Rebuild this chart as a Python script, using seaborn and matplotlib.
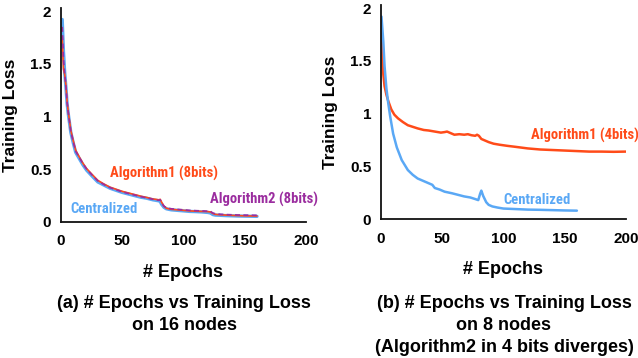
import pandas as pd
import seaborn as sns
import matplotlib.pyplot as plt
from matplotlib import font_manager

# (a) 16 nodes
epochs_a = [1, 2, 3, 4, 5, 6, 8, 10, 12, 15, 18, 21, 25, 30, 35, 40, 45, 50, 55, 60,
            65, 70, 75, 80, 81, 82, 84, 86, 90, 95, 100, 105, 110, 115, 120, 122, 124,
            126, 130, 135, 140, 145, 150, 155, 160]
central_a = [1.92, 1.62, 1.42, 1.28, 1.12, 1.02, 0.85, 0.75, 0.66, 0.60, 0.54, 0.49,
             0.44, 0.38, 0.35, 0.32, 0.30, 0.28, 0.265, 0.25, 0.235, 0.225, 0.21, 0.20,
             0.195, 0.17, 0.14, 0.125, 0.115, 0.11, 0.105, 0.10, 0.098, 0.095, 0.09,
             0.085, 0.07, 0.065, 0.063, 0.06, 0.058, 0.056, 0.055, 0.054, 0.053]
algo1_a = [1.75, 1.45, 1.40, 1.30, 1.14, 1.04, 0.87, 0.77, 0.68, 0.615, 0.555, 0.505,
           0.455, 0.395, 0.36, 0.33, 0.31, 0.29, 0.275, 0.26, 0.245, 0.232, 0.218, 0.21,
           0.215, 0.19, 0.15, 0.13, 0.12, 0.115, 0.11, 0.105, 0.102, 0.10, 0.098, 0.095,
           0.08, 0.072, 0.068, 0.065, 0.062, 0.06, 0.058, 0.057, 0.056]
algo2_a = [1.85, 1.55, 1.41, 1.29, 1.13, 1.03, 0.86, 0.76, 0.67, 0.61, 0.55, 0.50,
           0.45, 0.39, 0.355, 0.325, 0.305, 0.285, 0.27, 0.255, 0.24, 0.228, 0.215, 0.205,
           0.21, 0.185, 0.15, 0.135, 0.125, 0.12, 0.115, 0.11, 0.107, 0.105, 0.102, 0.10,
           0.085, 0.078, 0.073, 0.07, 0.068, 0.066, 0.065, 0.064, 0.063]

# (b) 8 nodes
epochs_b_c = [0.5, 2, 3, 4.5, 6, 7.5, 10, 13, 17, 22, 26, 30, 35, 39, 42, 44, 48, 52,
              58, 63, 68, 73, 77, 79.5, 81, 82, 83.5, 86, 88, 91, 95, 100, 110, 120,
              130, 140, 150, 160]
central_b = [1.92, 1.68, 1.45, 1.24, 1.10, 0.98, 0.81, 0.68, 0.56, 0.465, 0.42, 0.385,
             0.36, 0.34, 0.325, 0.295, 0.28, 0.26, 0.245, 0.23, 0.215, 0.205, 0.19, 0.18,
             0.24, 0.27, 0.22, 0.16, 0.135, 0.12, 0.11, 0.10, 0.095, 0.09, 0.088, 0.085,
             0.082, 0.08]
epochs_b_a = [0, 1, 2, 3, 4.5, 6, 8.5, 11, 14, 18, 22, 26, 30, 35, 39, 44, 49, 52, 54,
              57, 60, 64, 68, 71, 74, 77, 78.5, 80, 82, 85, 88, 92, 97, 103, 110, 120,
              130, 140, 150, 160, 170, 180, 190, 200]
algo1_b = [1.83, 1.6, 1.37, 1.26, 1.18, 1.12, 1.04, 0.99, 0.955, 0.92, 0.89, 0.875,
           0.86, 0.845, 0.84, 0.83, 0.82, 0.825, 0.83, 0.815, 0.80, 0.805, 0.80, 0.805,
           0.795, 0.79, 0.80, 0.79, 0.76, 0.745, 0.73, 0.715, 0.705, 0.695, 0.685, 0.67,
           0.66, 0.655, 0.65, 0.645, 0.64, 0.64, 0.638, 0.64]

ticks_x = [0, 50, 100, 150, 200]
ticks_y = [0, 0.5, 1, 1.5, 2]
tick_labels_y = ['0', '0.5', '1', '1.5', '2']

BLUE = '#5aa8f5'
RED = '#ff4b19'
PURPLE = '#9b2d9f'

sns.set_style('white')
plt.rcParams['font.family'] = ['Liberation Sans', 'DejaVu Sans']
plt.rcParams['font.weight'] = 'bold'
plt.rcParams['text.color'] = 'black'
plt.rcParams['axes.labelcolor'] = 'black'
plt.rcParams['xtick.color'] = 'black'
plt.rcParams['ytick.color'] = 'black'

# narrow face for the in-plot notes, if one is around
names = {f.name for f in font_manager.fontManager.ttflist}
note_font, note_size = 'Roboto', 9
for cand, size in (('Roboto Condensed', 10.5), ('Liberation Sans Narrow', 10),
                   ('Open Sans Condensed', 10.5)):
    if cand in names:
        note_font, note_size = cand, size
        break

fig = plt.figure(figsize=(6.38, 3.58), dpi=100)
ax1 = fig.add_axes([0.0956, 0.380, 0.384, 0.598])
ax2 = fig.add_axes([0.597, 0.388, 0.384, 0.598])

sns.lineplot(x=epochs_a, y=central_a, ax=ax1, color=BLUE, lw=2.4, sort=False)
sns.lineplot(x=epochs_a, y=algo1_a, ax=ax1, color=RED, lw=1.2, sort=False)
sns.lineplot(x=epochs_a, y=algo2_a, ax=ax1, color=PURPLE, lw=1.2, sort=False,
             linestyle=(0, (3, 2)))

sns.lineplot(x=epochs_b_a, y=algo1_b, ax=ax2, color=RED, lw=1.8, sort=False)
sns.lineplot(x=epochs_b_c, y=central_b, ax=ax2, color=BLUE, lw=1.8, sort=False)

for ax in (ax1, ax2):
    ax.set_xlim(0, 200)
    ax.set_ylim(0, 2.03)
    ax.set_xticks(ticks_x)
    ax.set_yticks(ticks_y)
    ax.set_yticklabels(tick_labels_y)
    ax.tick_params(axis='both', length=0, labelsize=11, labelcolor='black')
    ax.tick_params(axis='x', pad=9)
    ax.tick_params(axis='y', pad=7)
    for lab in ax.get_xticklabels() + ax.get_yticklabels():
        lab.set_fontweight('bold')
    sns.despine(ax=ax)
    for s in ('left', 'bottom'):
        ax.spines[s].set_color('#111111')
        ax.spines[s].set_linewidth(1.3)
    ax.set_xlabel('# Epochs', fontsize=13, fontweight='bold', va='center', color='black')
    ax.set_ylabel('Training Loss', fontsize=12.5, fontweight='bold', va='center',
                  color='black')
    ax.xaxis.set_label_coords(0.5, -0.234)
    ax.yaxis.set_label_coords(-0.205, 0.5)

note = dict(fontfamily=note_font, fontweight='bold', fontsize=note_size,
            va='center', ha='left')
ax1.text(40, 0.46, 'Algorithm1 (8bits)', color=RED, **note)
ax1.text(121.5, 0.21, 'Algorithm2 (8bits)', color=PURPLE, **note)
ax1.text(7.3, 0.12, 'Centralized', color=BLUE, **note)
ax2.text(122.4, 0.79, 'Algorithm1 (4bits)', color=RED, **note)
ax2.text(100.4, 0.18, 'Centralized', color=BLUE, **note)

cap_a = ['(a) # Epochs vs Training Loss', 'on 16 nodes']
cap_b = ['(b) # Epochs vs Training Loss', 'on 8 nodes', '(Algorithm2 in 4 bits diverges)']
line_y = [303, 326, 348]
for cx, lines in ((184, cap_a), (504, cap_b)):
    for yy, line in zip(line_y, lines):
        fig.text(cx / 638, 1 - yy / 358, line, ha='center', va='center',
                 fontsize=13, fontweight='bold', color='black')

fig.savefig('out.png', dpi=100)
